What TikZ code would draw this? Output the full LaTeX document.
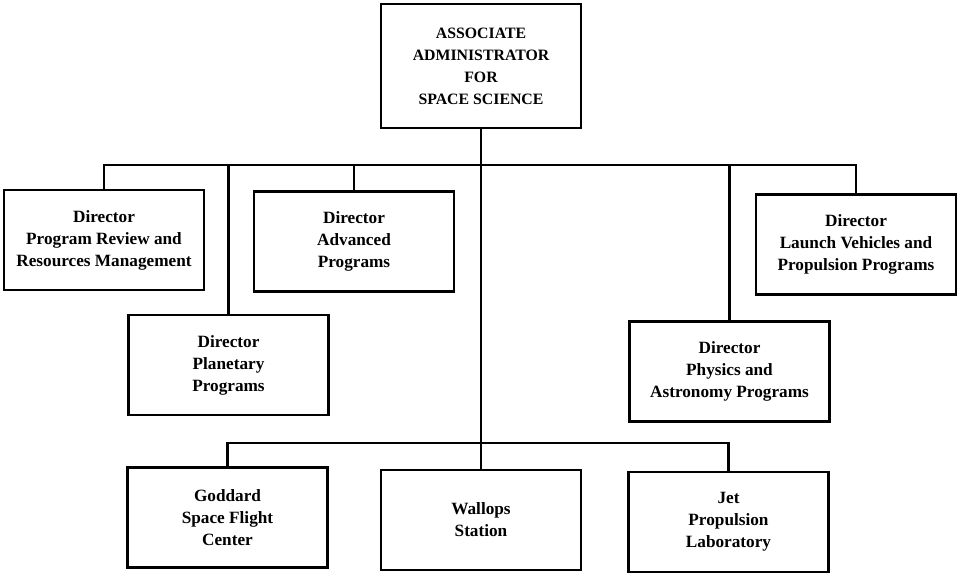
\documentclass[tikz,border=0pt]{standalone}
\usepackage{fontspec}
\setmainfont{Liberation Serif}
\usepackage{tikz}
\usetikzlibrary{positioning,calc}

\begin{document}
\begin{tikzpicture}[
    unit/.style={draw, line width=1.4pt, align=center, minimum width=4cm, minimum height=2cm,
        font=\bfseries\fontsize{9.8}{12.5}\selectfont},
    link/.style={line width=1.3pt}
]
\useasboundingbox (0,0) rectangle (19.16,11.46);

% Head office
\node[unit, minimum height=2.48cm, font=\bfseries\fontsize{9}{12.5}\selectfont] (head) at (9.62,10.14) {
    ASSOCIATE\\ ADMINISTRATOR\\ FOR\\ SPACE SCIENCE
};

% Headquarters directors
\node[unit] (review) at (2.08,6.66) {Director\\ Program Review and\\ Resources Management};
\node[unit] (advanced) at (7.08,6.63) {Director\\ Advanced\\ Programs};
\node[unit] (launch) at (17.12,6.57) {Director\\ Launch Vehicles and\\ Propulsion Programs};
\node[unit] (planetary) at (4.57,4.16) {Director\\ Planetary\\ Programs};
\node[unit] (physics) at (14.59,4.03) {Director\\ Physics and\\ Astronomy Programs};

% Field centers
\node[unit] (goddard) at (4.55,1.11) {Goddard\\ Space Flight\\ Center};
\node[unit] (wallops) at (9.62,1.06) {Wallops\\ Station};
\node[unit] (jpl) at (14.57,1.02) {Jet\\ Propulsion\\ Laboratory};

% Bus lines
\coordinate (upper) at (9.62,8.16);
\coordinate (lower) at (9.62,2.6);

\foreach \d in {review,advanced,launch,planetary,physics}
    \draw[link] (head.south) -- (upper) -| (\d.north);
\foreach \c in {goddard,jpl}
    \draw[link] (head.south) -- (lower) -| (\c.north);
\draw[link] (lower) -- (wallops.north);
\end{tikzpicture}
\end{document}
